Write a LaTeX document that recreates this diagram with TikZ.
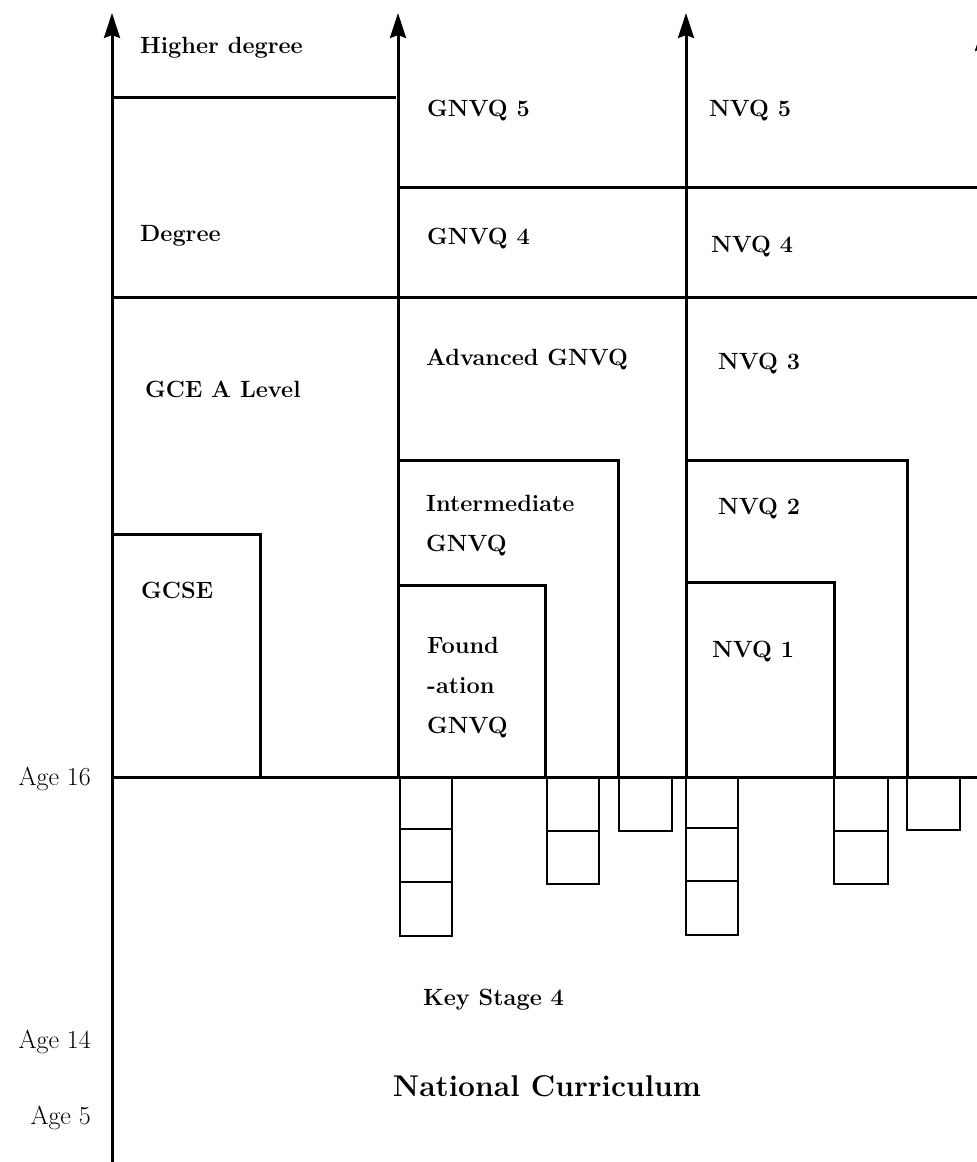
\documentclass[tikz,border=0pt]{standalone}
\usetikzlibrary{arrows.meta}
\begin{document}
\begin{tikzpicture}[x=1pt,y=-1pt,
  thick line/.style={line width=3pt,line cap=butt},
  axis/.style={line width=3pt,-{Stealth[length=25pt,width=16pt,inset=3pt]}},
  thin box/.style={line width=1.2pt},
  lab/.style={font=\fontsize{23.5}{40}\selectfont\bfseries,anchor=west,inner sep=0pt},
  agelab/.style={font=\fontsize{26}{30}\selectfont,anchor=east,inner sep=0pt},
  title/.style={font=\fontsize{30}{34}\selectfont\bfseries,inner sep=0pt}]
\useasboundingbox (0,0) rectangle (977,1162);
\begin{scope}
\clip (0,0) rectangle (977,1162);
% axes
\coordinate (a1b) at (112,1162); \coordinate (a1t) at (112,13);
\coordinate (a2b) at (398,778); \coordinate (a2t) at (398,13);
\coordinate (a3b) at (686,778); \coordinate (a3t) at (686,13);
\coordinate (a4b) at (983,778); \coordinate (a4t) at (983,26);
\draw[axis] (a1b) -- (a1t);
\draw[axis] (a2b) -- (a2t);
\draw[axis] (a3b) -- (a3t);
\draw[axis] (a4b) -- (a4t);
% horizontal levels
\draw[thick line] (112,97) -- (396,97);
\draw[thick line] (398,187) -- (977,187);
\draw[thick line] (112,297) -- (977,297);
\draw[thick line] (112,777) -- (977,777);
% GCSE
\draw[thick line] (112,534) -- (260,534) -- (260,777);
% GNVQ steps
\draw[thick line] (398,460) -- (618,460) -- (618,777);
\draw[thick line] (398,585) -- (545,585) -- (545,777);
% NVQ steps
\draw[thick line] (686,460) -- (907,460) -- (907,777);
\draw[thick line] (686,582) -- (834,582) -- (834,777);
% small boxes
\draw[thin box] (400,777) rectangle (452,829);
\draw[thin box] (400,829) rectangle (452,882);
\draw[thin box] (400,882) rectangle (452,936);
\draw[thin box] (547,777) rectangle (599,831);
\draw[thin box] (547,831) rectangle (599,884);
\draw[thin box] (619,777) rectangle (672,831);
\draw[thin box] (686,777) rectangle (738,828);
\draw[thin box] (686,828) rectangle (738,881);
\draw[thin box] (686,881) rectangle (738,935);
\draw[thin box] (834,777) rectangle (888,831);
\draw[thin box] (834,831) rectangle (888,884);
\draw[thin box] (907,777) rectangle (960,830);
\end{scope}
% labels
\node[lab] (hd) at (140,48) {Higher degree};
\node[lab] (g5) at (427,111) {GNVQ 5};
\node[lab] (n5) at (709,111) {NVQ 5};
\node[lab] (deg) at (140,236) {Degree};
\node[lab] (g4) at (427,239) {GNVQ 4};
\node[lab] (n4) at (711,247) {NVQ 4};
\node[lab] (adv) at (426,360) {Advanced GNVQ};
\node[lab] (n3) at (718,364) {NVQ 3};
\node[lab] (gce) at (145,389) {GCE A Level};
\node[lab,align=left] (int) at (426,526) {Intermediate\\GNVQ};
\node[lab] (n2) at (718,509) {NVQ 2};
\node[lab] (gcse) at (141,590) {GCSE};
\node[lab,align=left] (fnd) at (427,688) {Found\\-ation\\GNVQ};
\node[lab] (n1) at (712,652) {NVQ 1};
\node[lab] (ks4) at (423,1000) {Key Stage 4};
\node[agelab] (age16) at (91,779) {Age 16};
\node[agelab] (age14) at (91,1042) {Age 14};
\node[agelab] (age5) at (91,1118) {Age 5};
\node[title] (nc) at (547,1086) {National Curriculum};
\end{tikzpicture}
\end{document}
